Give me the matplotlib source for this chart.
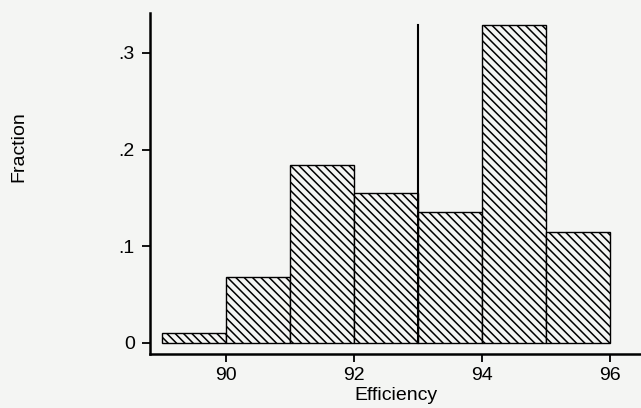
import matplotlib
matplotlib.use("Agg")
import matplotlib.pyplot as plt

# Data
bin_edges = [89, 90, 91, 92, 93, 94, 95, 96]
fractions = [0.010, 0.068, 0.184, 0.155, 0.135, 0.329, 0.115]
ref_line_x = 93
ref_line_top = 0.329
x_ticks = [90, 92, 94, 96]
x_tick_labels = ["90", "92", "94", "96"]
y_ticks = [0, 0.1, 0.2, 0.3]
y_tick_labels = ["0", ".1", ".2", ".3"]
x_label = "Efficiency"
y_label = "Fraction"

bg = "#f4f5f3"
plt.rcParams["font.family"] = ["Liberation Sans", "DejaVu Sans"]
plt.rcParams["hatch.linewidth"] = 1.1
plt.rcParams["hatch.color"] = "black"

fig = plt.figure(figsize=(6.41, 4.08), dpi=100, facecolor=bg)
ax = fig.add_axes([150/641, 54/408, 491/641, (354-12.7)/408])
ax.set_facecolor(bg)

lefts = bin_edges[:-1]
widths = [b - a for a, b in zip(bin_edges[:-1], bin_edges[1:])]
ax.bar(lefts, fractions, width=widths, align="edge", facecolor=bg,
       edgecolor="black", linewidth=1.0, hatch="\\\\\\\\")
ax.plot([ref_line_x, ref_line_x], [0, ref_line_top], color="black", linewidth=1.5)

ax.set_xlim(88.81, 96.48)
ax.set_ylim(-0.0114, 0.3416)
ax.set_xticks(x_ticks)
ax.set_xticklabels(x_tick_labels)
ax.set_yticks(y_ticks)
ax.set_yticklabels(y_tick_labels)
ax.tick_params(axis="both", direction="out", length=6, width=1.3,
               labelsize=14, color="black")
ax.tick_params(axis="y", pad=5)
ax.tick_params(axis="x", pad=3)

for s in ["top", "right"]:
    ax.spines[s].set_visible(False)
for s in ["left", "bottom"]:
    ax.spines[s].set_linewidth(1.8)

ax.set_xlabel(x_label, fontsize=14)
ax.set_ylabel(y_label, fontsize=14)
ax.xaxis.set_label_coords(0.5, -0.097)
ax.yaxis.set_label_coords(-0.25, 0.607)

fig.savefig("out.png", dpi=100, facecolor=bg)
